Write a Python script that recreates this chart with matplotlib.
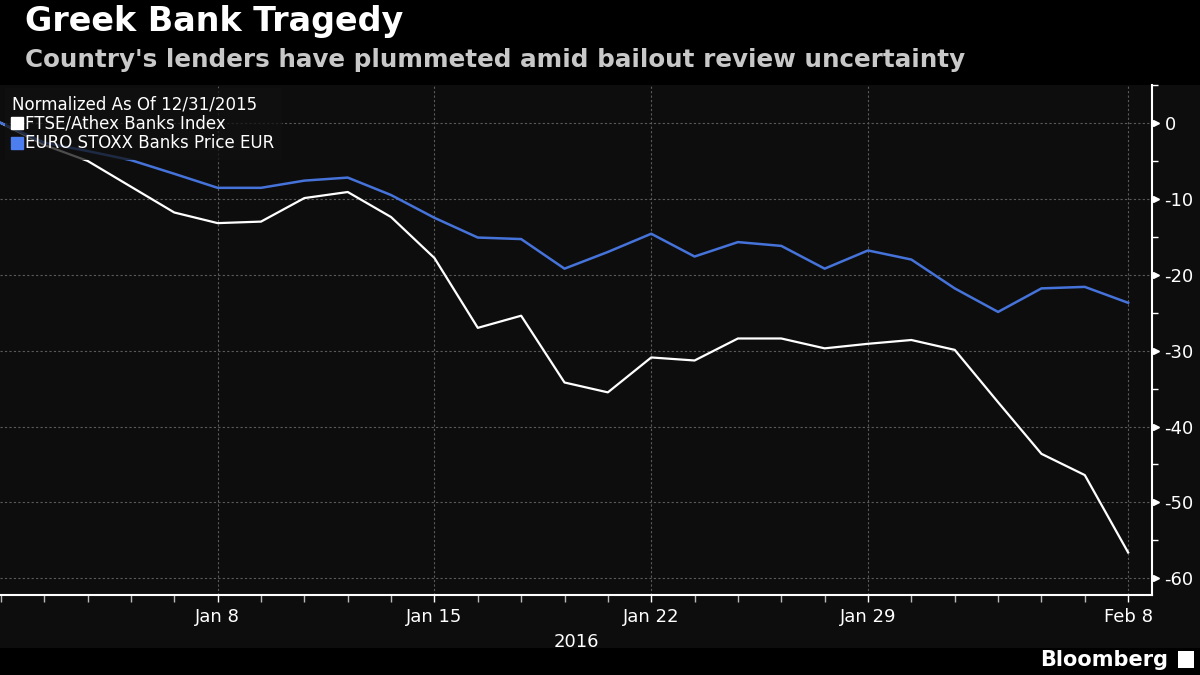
import matplotlib
matplotlib.use("Agg")
import matplotlib.pyplot as plt
from matplotlib.lines import Line2D
from matplotlib.patches import Rectangle
from matplotlib.transforms import blended_transform_factory

# trading days, Dec 31 2015 .. Feb 8 2016
days = ["Dec 31", "Jan 4", "Jan 5", "Jan 6", "Jan 7", "Jan 8", "Jan 11", "Jan 12",
        "Jan 13", "Jan 14", "Jan 15", "Jan 18", "Jan 19", "Jan 20", "Jan 21", "Jan 22",
        "Jan 25", "Jan 26", "Jan 27", "Jan 28", "Jan 29", "Feb 1", "Feb 2", "Feb 3",
        "Feb 4", "Feb 5", "Feb 8"]
athex = [0, -2.9, -5.0, -8.4, -11.8, -13.2, -13.0, -9.9, -9.1, -12.4, -17.8, -27.0,
         -25.4, -34.2, -35.5, -30.9, -31.3, -28.4, -28.4, -29.7, -29.1, -28.6, -29.9,
         -36.8, -43.6, -46.4, -56.6]
stoxx = [0, -2.6, -3.7, -4.9, -6.7, -8.55, -8.55, -7.6, -7.2, -9.5, -12.5, -15.1,
         -15.3, -19.2, -17.0, -14.6, -17.6, -15.7, -16.2, -19.2, -16.8, -18.0, -21.8,
         -24.9, -21.8, -21.6, -23.7]
x_labels = ["Jan 8", "Jan 15", "Jan 22", "Jan 29", "Feb 8"]
y_ticks = [0, -10, -20, -30, -40, -50, -60]

BG = "#0d0d0d"
BLUE = "#4573da"
GRID = "#5a5a5a"

fig = plt.figure(figsize=(12, 6.75), dpi=100, facecolor="black")
# dark band behind the chart and axis labels
band = Rectangle((0, 27 / 675), 1, (590 - 27) / 675, transform=fig.transFigure,
                 facecolor=BG, edgecolor="none", zorder=-5)
fig.patches.append(band)

ax = fig.add_axes([0, 80 / 675, 1152 / 1200, 510 / 675])
ax.set_facecolor(BG)
ax.set_zorder(1)

x = list(range(len(days)))
ax.plot(x, athex, color="white", lw=1.6, zorder=3)
ax.plot(x, stoxx, color=BLUE, lw=1.8, zorder=3)

ax.set_xlim(-0.02, 26.55)
ax.set_ylim(-62.2, 5)

# x axis: small tick every trading day, labels on selected dates
major_x = [days.index(d) for d in x_labels]
ax.set_xticks(x, minor=True)
ax.set_xticks(major_x)
ax.set_xticklabels(x_labels)
ax.tick_params(axis="x", which="both", colors="white", length=5, width=1, labelsize=13, pad=4)
ax.tick_params(axis="x", which="minor", color="#bbbbbb")

# y axis on the right
ax.yaxis.tick_right()
ax.set_yticks(y_ticks)
ax.set_yticklabels([str(v) for v in y_ticks])
ax.set_yticks([5, -5, -15, -25, -35, -45, -55], minor=True)
ax.tick_params(axis="y", which="major", colors="white", length=0, labelsize=13, pad=9)
ax.tick_params(axis="y", which="minor", colors="white", length=4, width=1)
trans = blended_transform_factory(ax.transAxes, ax.transData)
ax.plot([1.0035] * len(y_ticks), y_ticks, linestyle="none", marker=">", markersize=5,
        color="white", transform=trans, clip_on=False, zorder=5)

for side in ["left", "top"]:
    ax.spines[side].set_visible(False)
for side in ["right", "bottom"]:
    ax.spines[side].set_color("white")
    ax.spines[side].set_linewidth(1.5)

ax.grid(True, which="major", color=GRID, linestyle=(0, (2, 2)), linewidth=0.8)
ax.set_axisbelow(True)

ax.text(0.5, -0.075, "2016", transform=ax.transAxes, ha="center", va="top",
        color="white", fontsize=13)

handles = [Line2D([], [], marker="s", linestyle="none", color="white", markersize=8),
           Line2D([], [], marker="s", linestyle="none", color="#4d7ef0", markersize=8)]
leg = ax.legend(handles, ["FTSE/Athex Banks Index", "EURO STOXX Banks Price EUR"],
                title="Normalized As Of 12/31/2015", loc="upper left",
                bbox_to_anchor=(0.004, 0.995), frameon=True, fontsize=12,
                title_fontsize=12, handlelength=0.6, handletextpad=0.2,
                borderpad=0.45, labelspacing=0.1, borderaxespad=0, fancybox=False)
leg.get_frame().set_facecolor("#111111")
leg.get_frame().set_edgecolor("none")
leg.get_frame().set_alpha(0.75)
leg._legend_box.align = "left"
leg.get_title().set_color("white")
for t in leg.get_texts():
    t.set_color("white")
leg.set_zorder(6)

fig.text(25 / 1200, 1 - 22 / 675, "Greek Bank Tragedy", color="white", fontsize=24,
         fontweight="bold", va="center", ha="left")
fig.text(25 / 1200, 1 - 60 / 675,
         "Country's lenders have plummeted amid bailout review uncertainty",
         color="#c8c8c8", fontsize=17.7, fontweight="bold", va="center", ha="left")
fig.text(1168 / 1200, 1 - 660 / 675, "Bloomberg", color="white", fontsize=15,
         fontweight="bold", va="center", ha="right")
fig.patches.append(Rectangle((1178 / 1200, 1 - 668 / 675), 16 / 1200, 17 / 675,
                             transform=fig.transFigure, facecolor="white",
                             edgecolor="none", zorder=3))

fig.savefig("out.png", dpi=100, facecolor="black")
